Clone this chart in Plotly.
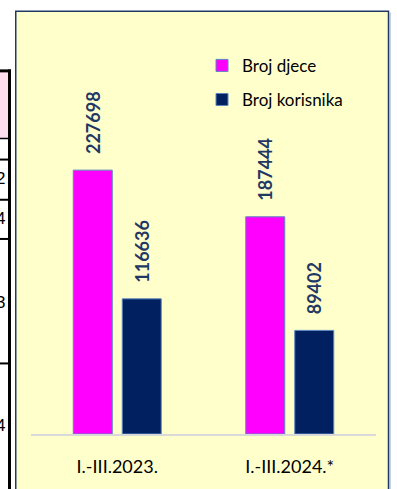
import plotly.graph_objects as go

categories = ["I.-III.2023.", "I.-III.2024.*"]
broj_djece = [227698, 187444]
broj_korisnika = [116636, 89402]
series_names = ["Broj djece", "Broj korisnika"]

W, H = 397, 489
L, R, T, B = 31, 376, 40, 442
PW, PH = R - L, B - T

def px_x(p):
    return (p - L) / PW

def px_y(p):
    return (B - p) / PH

label_font = dict(family="Lato", size=18, color="#1F3864", weight="bold")
pad = "\u00a0\u00a0\u00a0"

fig = go.Figure()
fig.add_trace(go.Bar(
    x=categories, y=broj_djece, name=series_names[0],
    marker=dict(color="#FF00FF", line=dict(color="#5B86C0", width=1)),
    text=[pad + str(v) for v in broj_djece], textposition="outside",
    textangle=-90, textfont=label_font, cliponaxis=False,
    constraintext="none", legendgroup="a",
))
fig.add_trace(go.Bar(
    x=categories, y=broj_korisnika, name=series_names[1],
    marker=dict(color="#002060", line=dict(color="#5B86C0", width=1)),
    text=[pad + str(v) for v in broj_korisnika], textposition="outside",
    textangle=-90, textfont=label_font, cliponaxis=False,
    constraintext="none", legendgroup="b",
))

shapes = []
# chart frame
shapes.append(dict(type="rect", xref="paper", yref="paper",
                   x0=px_x(15.75), x1=px_x(388.5), y0=px_y(520), y1=px_y(10.75),
                   fillcolor="#FFFFCC", line=dict(color="#1F3864", width=1.5),
                   layer="below"))
shapes.append(dict(type="line", xref="paper", yref="paper",
                   x0=px_x(390), x1=px_x(390), y0=px_y(520), y1=px_y(12),
                   line=dict(color="#8FA3C0", width=1), layer="below"))
# fragment of a neighbouring table on the left
shapes.append(dict(type="rect", xref="paper", yref="paper",
                   x0=px_x(-2), x1=px_x(9), y0=px_y(140), y1=px_y(72),
                   fillcolor="#FFDDF0", line=dict(width=0), layer="below"))
shapes.append(dict(type="line", xref="paper", yref="paper",
                   x0=px_x(-2), x1=px_x(11), y0=px_y(71.5), y1=px_y(71.5),
                   line=dict(color="black", width=3)))
shapes.append(dict(type="line", xref="paper", yref="paper",
                   x0=px_x(9.5), x1=px_x(9.5), y0=px_y(520), y1=px_y(70),
                   line=dict(color="black", width=3)))
for yy, wd in [(140.5, 1.5), (162, 2), (203, 2), (243, 2), (370, 2)]:
    shapes.append(dict(type="line", xref="paper", yref="paper",
                       x0=px_x(-2), x1=px_x(10), y0=px_y(yy), y1=px_y(yy),
                       line=dict(color="black", width=wd)))

annotations = []
for txt, yy in [("2", 181), ("4", 222), ("3", 308), ("4", 433)]:
    annotations.append(dict(text=txt, xref="paper", yref="paper",
                            x=px_x(7), y=px_y(yy), xanchor="right", yanchor="middle",
                            showarrow=False,
                            font=dict(family="Liberation Sans", size=17, color="black")))

fig.update_layout(
    width=W, height=H,
    margin=dict(l=L, r=W - R, t=T, b=H - B, pad=0),
    paper_bgcolor="white", plot_bgcolor="rgba(0,0,0,0)",
    barmode="group", bargap=0.432, bargroupgap=0.204,
    showlegend=True,
    legend=dict(x=px_x(202), y=px_y(48), xanchor="left", yanchor="top",
                bgcolor="rgba(0,0,0,0)", tracegroupgap=9,
                font=dict(family="Lato", size=17, color="black"),
                itemwidth=30),
    shapes=shapes, annotations=annotations,
    font=dict(family="Lato"),
)
fig.update_xaxes(showline=True, linecolor="#D9D9D9", linewidth=2,
                 ticks="", showgrid=False, zeroline=False, ticklabelstandoff=15,
                 tickfont=dict(family="Lato", size=18, color="black"))
fig.update_yaxes(visible=False, range=[0, 340000], showgrid=False, zeroline=False)

fig.write_html("out.html", config={"displayModeBar": False},
               post_script="document.body.style.margin='0';document.body.style.overflow='hidden';")
